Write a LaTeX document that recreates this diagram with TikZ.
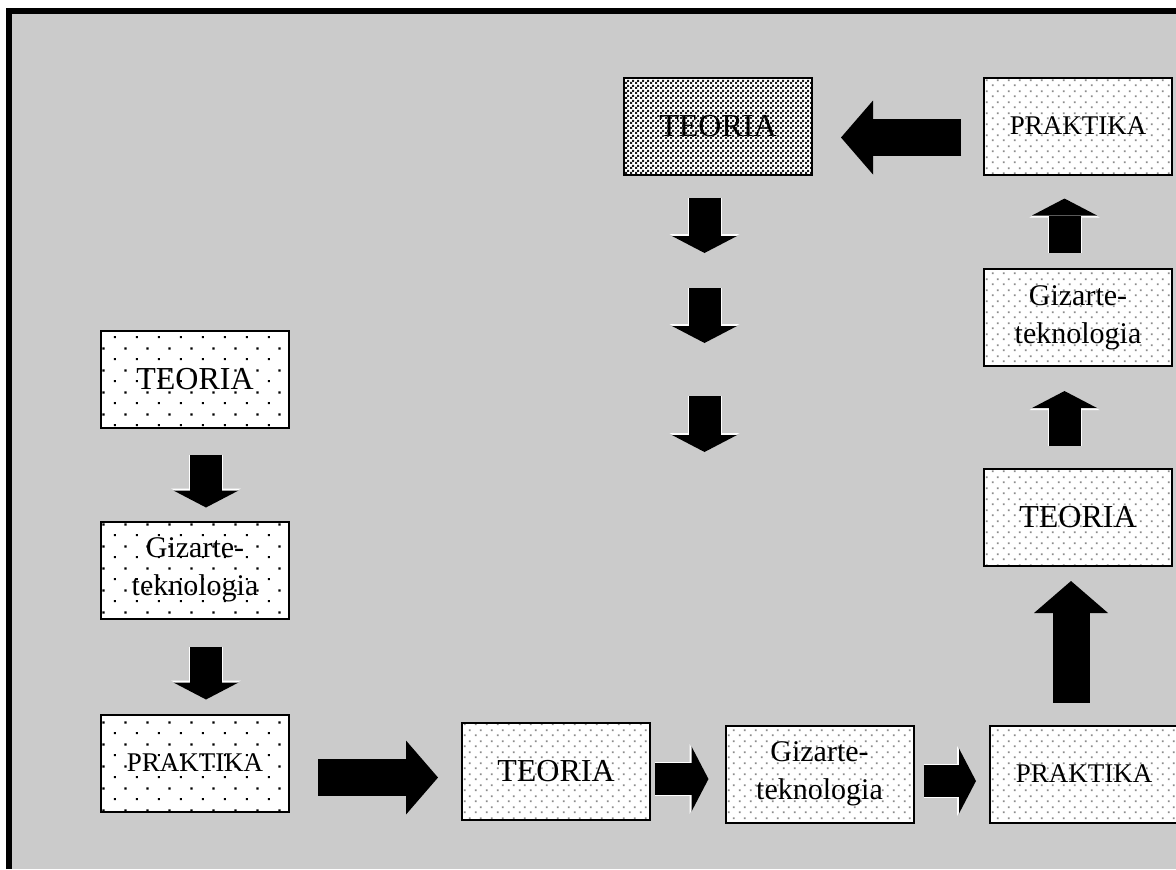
\documentclass[tikz,border=0pt]{standalone}
\usepackage{fontspec}
\setmainfont{Liberation Serif}
\usetikzlibrary{arrows.meta}
\usetikzlibrary{patterns}
\definecolor{cPanel}{RGB}{203, 203, 203}
\colorlet{cFineDot}{black!45!white}
\colorlet{cChecker}{black!90!white}
\pgfdeclarepatternformonly{sparseDots}{\pgfpointorigin}{\pgfqpoint{11pt}{11pt}}{\pgfqpoint{11pt}{11pt}}{%
    \pgfpathrectangle{\pgfqpoint{2pt}{2pt}}{\pgfqpoint{1.1pt}{1.1pt}}%
    \pgfpathrectangle{\pgfqpoint{7.5pt}{7.5pt}}{\pgfqpoint{1.1pt}{1.1pt}}%
    \pgfusepath{fill}}
\pgfdeclarepatternformonly{fineDots}{\pgfpointorigin}{\pgfqpoint{5.5pt}{5.5pt}}{\pgfqpoint{5.5pt}{5.5pt}}{%
    \pgfpathrectangle{\pgfqpoint{1pt}{1pt}}{\pgfqpoint{0.9pt}{0.9pt}}%
    \pgfpathrectangle{\pgfqpoint{3.75pt}{3.75pt}}{\pgfqpoint{0.9pt}{0.9pt}}%
    \pgfusepath{fill}}
\pgfdeclarepatternformonly{denseChecker}{\pgfpointorigin}{\pgfqpoint{2.5pt}{2.5pt}}{\pgfqpoint{2.5pt}{2.5pt}}{%
    \pgfpathrectangle{\pgfpointorigin}{\pgfqpoint{1.25pt}{1.25pt}}%
    \pgfpathrectangle{\pgfqpoint{1.25pt}{1.25pt}}{\pgfqpoint{1.25pt}{1.25pt}}%
    \pgfusepath{fill}}
\tikzset{
    boxItem/.style={
        draw=black,
        line width=1pt,
        minimum width=94pt,
        minimum height=48.5pt,
        inner sep=0pt,
        align=center,
        preaction={fill=white}
    },
    boxSparse/.style={
        boxItem,
        pattern=sparseDots,
        pattern color=black
    },
    boxFine/.style={
        boxItem,
        pattern=fineDots,
        pattern color=cFineDot
    },
    boxDense/.style={
        boxItem,
        pattern=denseChecker,
        pattern color=cChecker
    },
    textTeoria/.style={
        font=\fontsize{16}{19}\selectfont,
    },
    textGizarte/.style={
        font=\fontsize{15}{19}\selectfont,
    },
    textPraktika/.style={
        font=\fontsize{13.5}{16}\selectfont,
    },
    arrowSmall/.style={
        line width=16pt,
        -{Triangle[width=32.5pt,length=8.5pt,line width=0pt]},
        preaction={draw=white,line width=17pt,-{Triangle[width=35pt,length=9.5pt,line width=0pt]}}
    },
    arrowBig/.style={
        line width=18.5pt,
        -{Triangle[width=37pt,length=16pt,line width=0pt]}
    },
}
\begin{document}
\begin{tikzpicture}[x=0.5pt,y=-0.5pt]
    \useasboundingbox (0,0) rectangle (1176,869);

	\pgfdeclarelayer{background}
	\pgfsetlayers{background,main}

	\begin{pgfonlayer}{background}
        \fill[cPanel] (9,11) rectangle (1176,869);
        \draw[line width=3pt] (9,869) -- (9,11) -- (1176,11);
	\end{pgfonlayer}

    % left column
    \node[boxSparse,textTeoria] (tL) at (195,379) {TEORIA};
    \node[boxSparse,textGizarte] (gL) at (195,570) {Gizarte-\\teknologia};
    \node[boxSparse,textPraktika] (pL) at (195,763) {PRAKTIKA};

    % bottom row
    \node[boxFine,textTeoria] (tB) at (556,771.5) {TEORIA};
    \node[boxFine,textGizarte] (gB) at (819.5,774) {Gizarte-\\teknologia};
    \node[boxFine,textPraktika] (pB) at (1084,774) {PRAKTIKA};

    % right column
    \node[boxFine,textTeoria] (tR) at (1078,517.5) {TEORIA};
    \node[boxFine,textGizarte] (gR) at (1078,317.5) {Gizarte-\\teknologia};
    \node[boxFine,textPraktika] (pR) at (1078,126) {PRAKTIKA};

    \node[boxDense,textTeoria] (tT) at (718,126) {TEORIA};

    \coordinate (m1) at (704.5,253);
    \coordinate (m2) at (704.5,288);
    \coordinate (m3) at (704.5,343);
    \coordinate (m4) at (704.5,396);
    \coordinate (m5) at (704.5,452);

    \draw[arrowSmall,shorten <=13pt,shorten >=6.5pt] ([xshift=5.5pt]tL.south) -- ([xshift=5.5pt]gL.north);
    \draw[arrowSmall,shorten <=13.5pt,shorten >=7pt] ([xshift=5.5pt]gL.south) -- ([xshift=5.5pt]pL.north);
    \draw[arrowBig,shorten <=14pt,shorten >=11.5pt] ([yshift=-7.25pt]pL.east) -- ([yshift=-3pt]tB.west);

    \draw[arrowSmall,shorten <=2pt,shorten >=8pt] ([yshift=-3.75pt]tB.east) -- ([yshift=-2.5pt]gB.west);
    \draw[arrowSmall,shorten <=4.5pt,shorten >=6.5pt] ([yshift=-3.5pt]gB.east) -- ([yshift=-3.5pt]pB.west);
    \draw[arrowBig,shorten <=11pt,shorten >=7pt] ([xshift=-6.5pt]pB.north) -- ([xshift=-3.5pt]tR.south);

    \draw[arrowSmall,shorten <=11pt,shorten >=12pt] ([xshift=-6.75pt]tR.north) -- ([xshift=-6.75pt]gR.south);
    \draw[arrowSmall,shorten <=7.5pt,shorten >=11.5pt] ([xshift=-6.75pt]gR.north) -- ([xshift=-6.75pt]pR.south);
    \draw[arrowBig,shorten <=11pt,shorten >=14pt] ([yshift=-5.75pt]pR.west) -- ([yshift=-5.75pt]tT.east);

    \draw[arrowSmall,shorten <=11pt] ([xshift=-6.75pt]tT.south) -- (m1);
    \draw[arrowSmall] (m2) -- (m3);
    \draw[arrowSmall] (m4) -- (m5);
\end{tikzpicture}
\end{document}
